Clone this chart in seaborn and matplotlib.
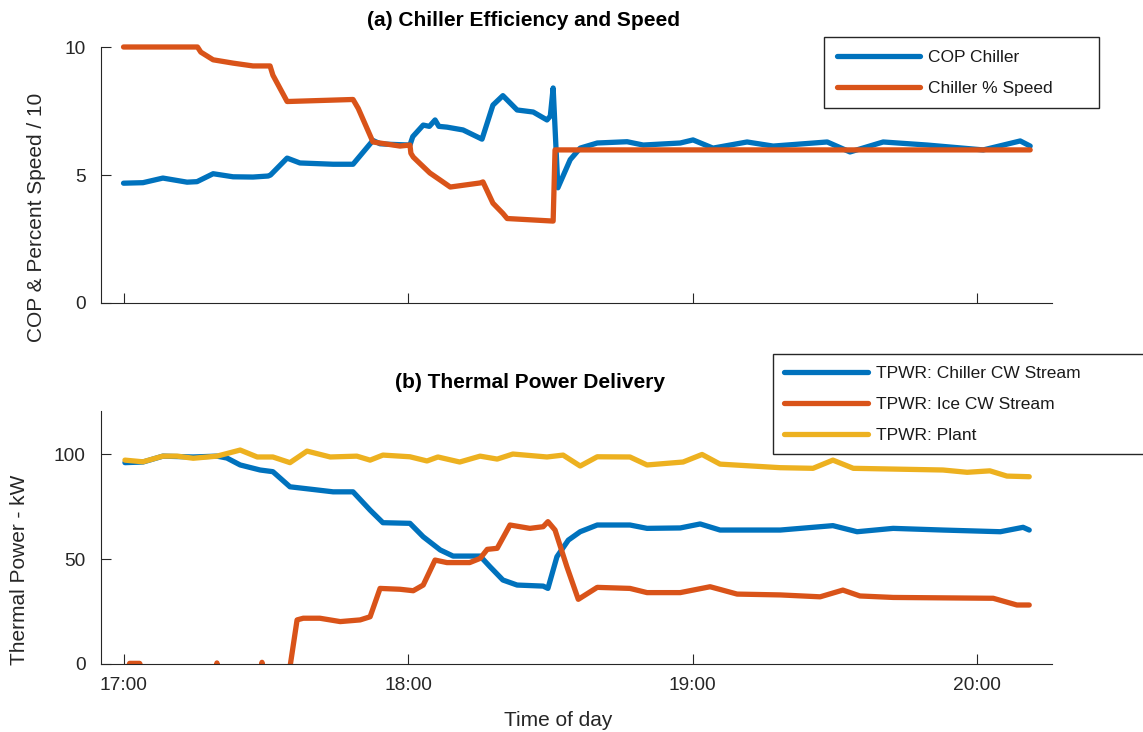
import matplotlib
matplotlib.use("Agg")
import matplotlib.pyplot as plt
import seaborn as sns
import pandas as pd

# ---------------- data (time = minutes after 17:00) ----------------
cop_t = [0, 4.1, 8.3, 13.4, 15.5, 18.9, 23.1, 27.3, 30.5, 31.0, 34.5, 37.2, 44.2, 48.4, 52.6,
         54.1, 56.0, 60.4, 61.0, 63.2, 64.5, 65.7, 66.5, 68.2, 71.6, 75.6, 77.9, 80.0, 83.0, 86.4,
         89.3, 90.0, 90.6, 91.6, 94.2, 96.3, 99.9, 106.2, 109.6, 117.4, 120.1, 124.3, 131.5, 137.0,
         148.4, 153.2, 160.2, 169.5, 181.3, 189.1, 191.2]
cop_v = [4.68, 4.7, 4.88, 4.72, 4.74, 5.05, 4.93, 4.92, 4.96, 5.0, 5.66, 5.47, 5.42, 5.42, 6.35,
         6.22, 6.2, 6.17, 6.5, 6.95, 6.9, 7.15, 6.9, 6.87, 6.76, 6.4, 7.73, 8.1, 7.54, 7.46,
         7.15, 7.3, 8.4, 4.5, 5.6, 6.05, 6.25, 6.3, 6.17, 6.25, 6.37, 6.05, 6.29, 6.13,
         6.29, 5.9, 6.29, 6.17, 5.98, 6.33, 6.13]

spd_t = [0, 15.6, 16.3, 18.9, 23.1, 27.3, 30.9, 31.5, 34.5, 48.4, 49.5, 52.6, 58.3, 60.4, 60.6,
         61.1, 62.5, 64.6, 66.8, 68.9, 75.2, 75.8, 77.9, 80.0, 80.9, 90.6, 91.0, 191.2]
spd_v = [10.0, 10.0, 9.8, 9.5, 9.37, 9.26, 9.26, 8.9, 7.87, 7.95, 7.6, 6.29, 6.13, 6.17, 5.85,
         5.7, 5.45, 5.08, 4.8, 4.53, 4.69, 4.73, 3.9, 3.5, 3.3, 3.2, 5.98, 5.98]

chw_t = [0.3, 4.1, 8.3, 14.7, 19.7, 21.8, 24.6, 28.8, 31.5, 35.1, 39.3, 44.2, 48.4, 52.0, 54.7,
         60.4, 63.2, 66.8, 69.5, 75.2, 77.3, 80.0, 83.0, 88.5, 89.5, 91.4, 93.8, 96.3, 99.9,
         106.8, 110.4, 117.4, 121.6, 125.8, 138.5, 149.6, 154.7, 162.3, 172.8, 184.9, 189.7, 191.0]
chw_v = [95.9, 96.2, 99.0, 98.6, 99.0, 98.1, 94.8, 92.4, 91.6, 84.4, 83.3, 82.0, 82.0, 73.3, 67.3,
         67.0, 60.6, 54.3, 51.4, 51.4, 46.3, 40.0, 37.6, 37.1, 36.0, 51.1, 59.0, 63.0, 66.2,
         66.2, 64.6, 64.8, 66.7, 63.8, 63.8, 65.9, 63.0, 64.6, 63.8, 63.0, 65.1, 63.8]

ice_t = [0.3, 1.3, 3.4, 4.5, 19.3, 19.7, 20.1, 28.7, 29.2, 29.7, 34.6, 35.2, 36.6, 37.9, 41.4,
         45.7, 49.9, 52.0, 54.1, 58.3, 61.1, 63.2, 65.7, 68.2, 73.0, 75.2, 76.7, 78.8, 81.5,
         85.7, 88.5, 89.5, 91.0, 93.5, 95.9, 99.9, 106.8, 110.4, 117.4, 123.7, 129.4, 138.5,
         146.9, 151.7, 155.3, 162.3, 183.4, 188.4, 191.0]
ice_v = [-6, 0.3, 0.3, -6, -6, 0.5, -6, -6, 0.8, -6, -6, 0.0, 21.0, 21.8, 21.8,
         20.2, 21.0, 22.5, 36.0, 35.6, 34.9, 37.6, 49.5, 48.3, 48.3, 50.3, 54.6, 55.1, 66.2,
         64.6, 65.4, 67.8, 63.8, 46.3, 30.8, 36.5, 36.0, 34.0, 34.0, 36.8, 33.3, 32.9,
         32.0, 35.2, 32.4, 31.7, 31.3, 28.1, 28.1]

plant_t = [0.3, 4.1, 8.3, 11.3, 14.7, 19.7, 24.6, 28.2, 31.5, 35.1, 38.7, 43.6, 49.2, 52.0, 54.7,
           60.4, 64.0, 66.3, 70.9, 75.2, 78.8, 82.1, 89.3, 92.7, 96.3, 99.9, 106.8, 110.4,
           118.0, 122.0, 125.8, 138.5, 145.4, 149.6, 153.9, 172.8, 177.9, 182.7, 186.3, 191.0]
plant_v = [97.1, 96.3, 99.0, 99.0, 98.0, 99.0, 101.9, 98.6, 98.6, 95.9, 101.4, 98.6, 99.0, 97.1, 99.5,
           98.7, 96.7, 98.6, 96.2, 99.0, 97.6, 100.0, 98.6, 99.5, 94.3, 98.7, 98.6, 94.8,
           96.2, 99.8, 95.2, 93.5, 93.2, 97.1, 93.2, 92.4, 91.3, 92.0, 89.5, 89.2]

x_ticks = [0, 60, 120, 180]
x_ticklabels = ["17:00", "18:00", "19:00", "20:00"]
top_yticks = [0, 5, 10]
bot_yticks = [0, 50, 100]

# ---------------- styling ----------------
sns.set_theme(style="ticks")
plt.rcParams["font.family"] = ["Liberation Sans", "DejaVu Sans"]
TXT = "#262626"
BLUE, ORANGE, YELLOW = "#0072BD", "#D95319", "#EDB120"
LW = 3.8

W, H = 1143, 732
fig = plt.figure(figsize=(W / 100, H / 100), dpi=100)


def px_rect(l, t, r, b):
    return [l / W, 1 - b / H, (r - l) / W, (b - t) / H]


ax1 = fig.add_axes(px_rect(101, 47, 1052, 303))
ax2 = fig.add_axes(px_rect(101, 411, 1052, 664))

top = pd.concat([
    pd.DataFrame({"t": cop_t, "v": cop_v, "s": "COP Chiller"}),
    pd.DataFrame({"t": spd_t, "v": spd_v, "s": "Chiller % Speed"}),
])
bot = pd.concat([
    pd.DataFrame({"t": chw_t, "v": chw_v, "s": "TPWR: Chiller CW Stream"}),
    pd.DataFrame({"t": ice_t, "v": ice_v, "s": "TPWR: Ice CW Stream"}),
    pd.DataFrame({"t": plant_t, "v": plant_v, "s": "TPWR: Plant"}),
])

sns.lineplot(data=top, x="t", y="v", hue="s", palette=[BLUE, ORANGE], estimator=None,
             linewidth=LW, ax=ax1, legend=False)
sns.lineplot(data=bot, x="t", y="v", hue="s", palette=[BLUE, ORANGE, YELLOW], estimator=None,
             linewidth=LW, ax=ax2, legend=False)
for ln in ax1.get_lines():
    ln.set_clip_on(False)

xmin, xmax = -4.75, 195.8
for ax, ylim, yt in [(ax1, (0, 10), top_yticks), (ax2, (0, 120.5), bot_yticks)]:
    ax.set_xlim(xmin, xmax)
    ax.set_ylim(*ylim)
    ax.set_xticks(x_ticks)
    ax.set_yticks(yt)
    ax.set_xlabel("")
    ax.set_ylabel("")
    sns.despine(ax=ax)
    for sp in ("left", "bottom"):
        ax.spines[sp].set_color(TXT)
        ax.spines[sp].set_linewidth(0.8)
    ax.tick_params(direction="in", length=7.5, width=0.8, color=TXT, labelcolor=TXT,
                   labelsize=13.8)
    ax.tick_params(axis="y", pad=11)
    ax.tick_params(axis="x", pad=9)

ax1.set_xticklabels([])
ax2.set_xticklabels(x_ticklabels)

# legends
leg1 = ax1.legend(
    handles=ax1.get_lines()[:2], labels=["COP Chiller", "Chiller % Speed"],
    loc="upper left", bbox_to_anchor=(824 / W, 1 - 108 / H, (1099 - 824) / W, 71 / H),
    bbox_transform=fig.transFigure, mode="expand", fontsize=12.5, frameon=True,
    fancybox=False, edgecolor=TXT, framealpha=1, handlelength=4.8, handletextpad=0.45,
    labelspacing=0.92, borderpad=0.72, borderaxespad=0)
leg1.get_frame().set_linewidth(1.0)
for txt in leg1.get_texts():
    txt.set_color("#1a1a1a")

leg2 = ax2.legend(
    handles=ax2.get_lines()[:3],
    labels=["TPWR: Chiller CW Stream", "TPWR: Ice CW Stream", "TPWR: Plant"],
    loc="upper left", bbox_to_anchor=(773 / W, 1 - 454 / H, (1160 - 773) / W, 100 / H),
    bbox_transform=fig.transFigure, mode="expand", fontsize=12.5, frameon=True,
    fancybox=False, edgecolor=TXT, framealpha=1, handlelength=4.8, handletextpad=0.45,
    labelspacing=0.92, borderpad=0.66, borderaxespad=0)
leg2.get_frame().set_linewidth(1.0)
for txt in leg2.get_texts():
    txt.set_color("#1a1a1a")

# titles and axis labels
fig.text(523.5 / W, 1 - 20 / H, "(a) Chiller Efficiency and Speed", ha="center", va="center",
         fontsize=15, fontweight="bold", color="black")
fig.text(530 / W, 1 - 383 / H, "(b) Thermal Power Delivery", ha="center", va="center",
         fontsize=15, fontweight="bold", color="black")
fig.text(37 / W, 1 - 217 / H, "COP & Percent Speed / 10", rotation=90, ha="center",
         va="center", fontsize=15, color=TXT)
fig.text(20 / W, 1 - 570 / H, "Thermal Power - kW", rotation=90, ha="center",
         va="center", fontsize=15, color=TXT)
fig.text(558 / W, 1 - 720 / H, "Time of day", ha="center", va="center", fontsize=15, color=TXT)

fig.savefig("out.png", dpi=100)
